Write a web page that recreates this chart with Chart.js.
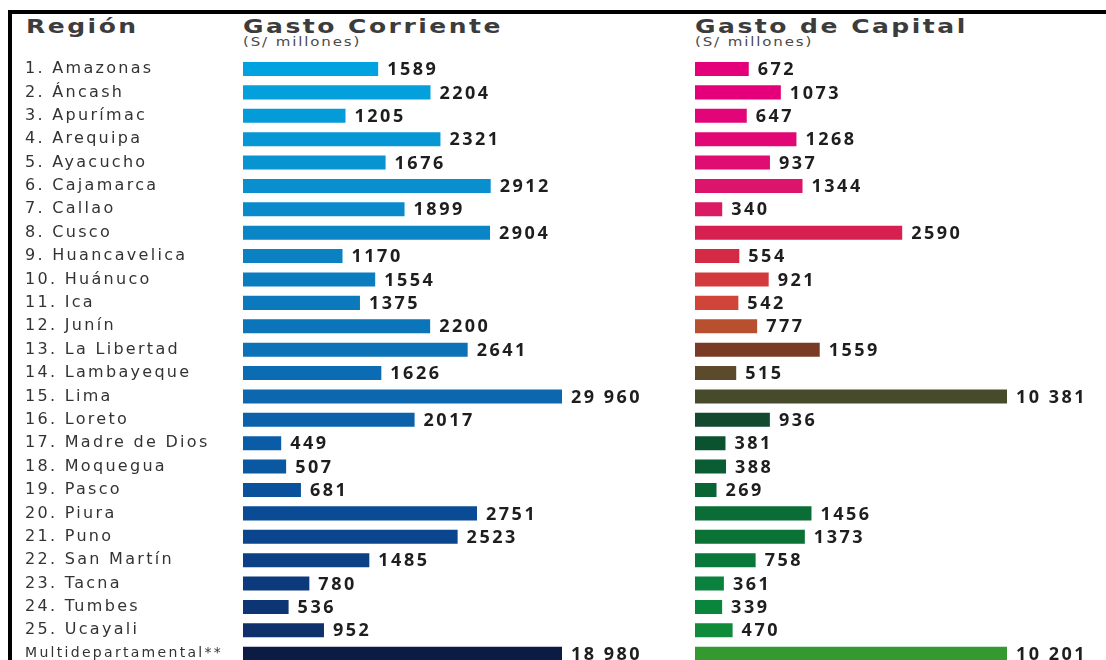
<!DOCTYPE html>
<html lang="es">
<head>
<meta charset="utf-8">
<script src="https://cdn.jsdelivr.net/npm/chart.js@4.4.1/dist/chart.umd.min.js"></script>
<style>
    html, body { margin: 0; padding: 0; background: #fff; width: 1106px; height: 660px; overflow: hidden; }
    #marco { position: absolute; left: 8px; top: 10px; width: 1098px; height: 700px; border-top: 4px solid #000; border-left: 4px solid #000; box-sizing: border-box; }
    .cab { position: absolute; top: 16px; font-family: "DejaVu Sans"; font-weight: bold; font-size: 20px; line-height: 20px; color: #3c3c3c; letter-spacing: 2px; transform: scaleX(1.25); transform-origin: left top; white-space: nowrap; }
    .uni { position: absolute; top: 36px; font-family: "DejaVu Sans"; font-size: 12px; line-height: 12px; color: #4a4a4a; letter-spacing: 1.5px; transform: scaleX(1.25); transform-origin: left top; white-space: nowrap; }
    canvas { position: absolute; top: 0; }
</style>
</head>
<body>
<div id="marco"></div>
<div class="cab" style="left:26px">Región</div>
<div class="cab" style="left:243px">Gasto Corriente</div>
<div class="uni" style="left:243px">(S/ millones)</div>
<div class="cab" style="left:695px">Gasto de Capital</div>
<div class="uni" style="left:695px">(S/ millones)</div>
<canvas id="corriente" width="680" height="680" style="left:0"></canvas>
<canvas id="capital" width="426" height="680" style="left:680px"></canvas>
<script>
// ------------------ Datos -------------------------------

// regiones (eje vertical)
let regiones = [
    "1. Amazonas", "2. Áncash", "3. Apurímac", "4. Arequipa", "5. Ayacucho",
    "6. Cajamarca", "7. Callao", "8. Cusco", "9. Huancavelica", "10. Huánuco",
    "11. Ica", "12. Junín", "13. La Libertad", "14. Lambayeque", "15. Lima",
    "16. Loreto", "17. Madre de Dios", "18. Moquegua", "19. Pasco", "20. Piura",
    "21. Puno", "22. San Martín", "23. Tacna", "24. Tumbes", "25. Ucayali",
    "Multidepartamental**",
];

// gasto corriente (S/ millones)
let gastoCorriente = [
    1589, 2204, 1205, 2321, 1676, 2912, 1899, 2904, 1170, 1554,
    1375, 2200, 2641, 1626, 29960, 2017, 449, 507, 681, 2751,
    2523, 1485, 780, 536, 952, 18980,
];

// gasto de capital (S/ millones)
let gastoCapital = [
    672, 1073, 647, 1268, 937, 1344, 340, 2590, 554, 921,
    542, 777, 1559, 515, 10381, 936, 381, 388, 269, 1456,
    1373, 758, 361, 339, 470, 10201,
];

// ------------------ Colores -------------------------------

let coloresCorriente = [
    "#00a3e0", "#03a0dc", "#059bd8", "#0797d4", "#0893d1", "#098fcd", "#0a8aca",
    "#0a86c6", "#0b81c2", "#0b7dbf", "#0c79bc", "#0c75b9", "#0c71b6", "#0c6cb3",
    "#0c67af", "#0b62ab", "#0a5ca7", "#0a57a2", "#0a519c", "#0a4b95", "#0a458d",
    "#0b4086", "#0c3a7d", "#0d3573", "#0f306a", "#0b1b44",
];

let coloresCapital = [
    "#e4007b", "#e3007a", "#e20579", "#e10876", "#df0d71", "#dd146b", "#da1b63",
    "#d6204f", "#d42a45", "#d33a3d", "#d1443a", "#b8502f", "#7a3b26", "#5b4a2b",
    "#474a2b", "#134a2f", "#0b5231", "#0a5c33", "#0a6535", "#0a6d35", "#0a7235",
    "#08793a", "#0a813c", "#0a863c", "#0f8b3a", "#349a30",
];

// ------------------ Plugins -------------------------------

// separador de miles con espacio (solo a partir de 10 000)
function formato(v) {
    return v >= 10000 ? String(v).replace(/(\d)(?=(\d{3})+$)/g, "$1 ") : String(v);
}

// espaciado de letras para las etiquetas de region
const espaciado = {
    id: "espaciado",
    beforeDraw(chart) { chart.ctx.letterSpacing = "2.3px"; },
    afterDraw(chart) { chart.ctx.letterSpacing = "0px"; },
};

// numero al final de cada barra
const etiquetasValor = {
    id: "etiquetasValor",
    afterDatasetsDraw(chart) {
        const { ctx, chartArea } = chart;
        const datos = chart.data.datasets[0].data;
        ctx.save();
        ctx.font = 'bold 18px "Open Sans"';
        ctx.letterSpacing = "2.5px";
        ctx.fillStyle = "#1e1e1e";
        ctx.textBaseline = "middle";
        ctx.textAlign = "left";
        chart.getDatasetMeta(0).data.forEach((barra, i) => {
            const x = Math.min(barra.x, chartArea.right) + 9;
            ctx.fillText(formato(datos[i]), x, barra.y + 1);
        });
        ctx.restore();
    },
};

// ------------------ Graficos -------------------------------

function crearGrafico(id, datos, colores, maximo, conEtiquetas, padding) {
    return new Chart(document.getElementById(id).getContext("2d"), {
        type: "bar",
        data: {
            labels: regiones,
            datasets: [{
                data: datos,
                backgroundColor: colores,
                barPercentage: 0.6,
                categoryPercentage: 1,
                clip: 0,
            }],
        },
        options: {
            indexAxis: "y",
            responsive: false,
            animation: false,
            devicePixelRatio: 1,
            layout: { padding: padding },
            plugins: { legend: { display: false }, tooltip: { enabled: false } },
            scales: {
                x: { display: false, min: 0, max: maximo },
                y: {
                    display: conEtiquetas,
                    grid: { display: false },
                    border: { display: false },
                    ticks: {
                        crossAlign: "far",
                        padding: 0,
                        color: "#333",
                        font: (c) => ({ family: "DejaVu Sans", size: c.index === 25 ? 14 : 16 }),
                    },
                    afterFit(s) { if (conEtiquetas) s.width = 218; },
                },
            },
        },
        plugins: [espaciado, etiquetasValor],
    });
}

let graficoCorriente = crearGrafico("corriente", gastoCorriente, coloresCorriente, 3750, true,
    { left: 25, right: 118, top: 57.3, bottom: 14.6 });

let graficoCapital = crearGrafico("capital", gastoCapital, coloresCapital, 3900, false,
    { left: 15, right: 99, top: 57.3, bottom: 14.6 });
</script>
</body>
</html>
